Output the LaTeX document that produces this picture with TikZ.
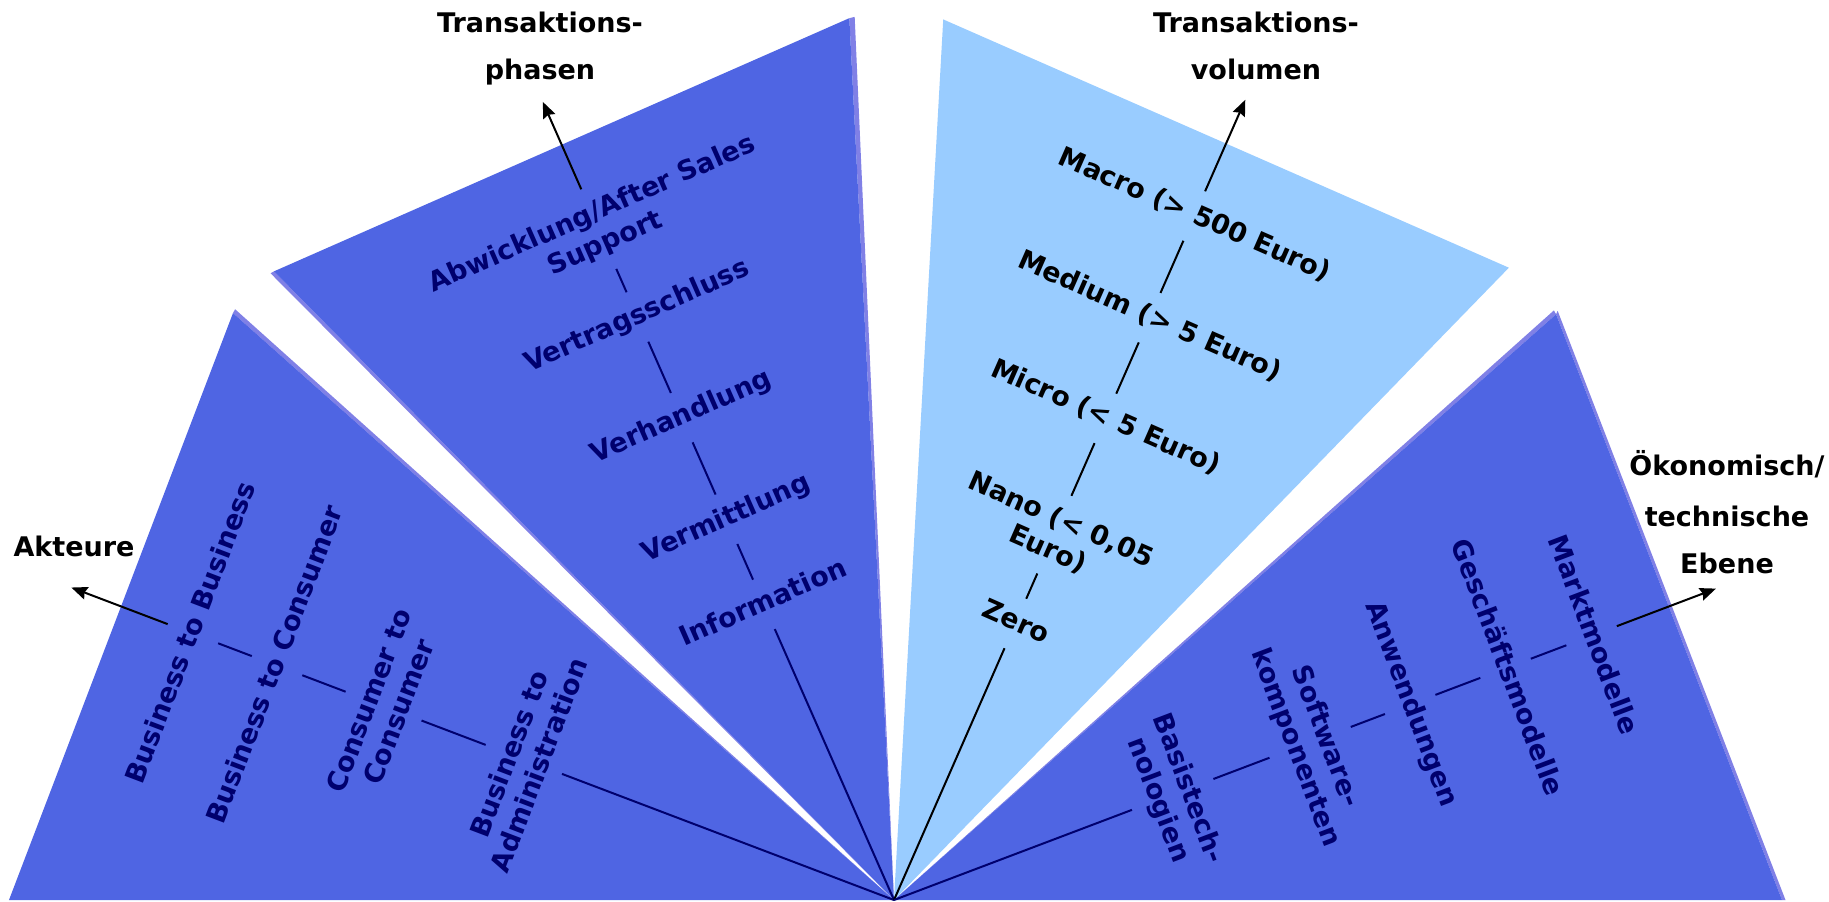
\documentclass[tikz,border=0pt]{standalone}
\usepackage{fontspec}
\setmainfont{DejaVu Sans}
\usetikzlibrary{arrows.meta}
\definecolor{fillblue}{RGB}{79,101,227}
\definecolor{edgeblue}{RGB}{128,128,230}
\definecolor{lightblue}{RGB}{153,204,255}
\definecolor{navy}{RGB}{0,0,110}
\begin{document}
\begin{tikzpicture}[x=0.5pt,y=0.5pt,
  lab/.style={font=\bfseries\fontsize{13.5}{16}\selectfont, inner xsep=2pt},
  one/.style={lab, text height=10.2pt, text depth=3.2pt, inner ysep=6.6pt},
  two/.style={lab, align=center, inner ysep=7pt},
  outer/.style={font=\bfseries\fontsize{13.5}{16}\selectfont, inner sep=0pt, anchor=base},
  seg/.style={draw=navy, line width=1pt},
  segk/.style={draw=black, line width=1pt},
  arr/.style={draw=black, line width=1pt, -{Stealth[length=8pt,width=6.5pt,inset=1pt]}},
  edge/.style={fill=edgeblue},
  sector/.style={fill=fillblue}
]
\useasboundingbox (-894,-1) rectangle (935,900);
\coordinate (O) at (0,0);

% lavender edge strips (tapering to the apex)
\fill[edge] (O) -- (138.4:884) -- (138.12:885) -- cycle;
\fill[edge] (O) -- (134.6:883) -- (134.85:884) -- cycle;
\fill[edge] (O) -- (92.9:883) -- (92.55:884) -- cycle;
\fill[edge] (O) -- (41.5:884) -- (41.78:885) -- cycle;
\fill[edge] (0:888) -- (41.5:884) -- (41.6:887.5) -- (0:891.5) -- cycle;

% sectors
\fill[sector] (O) -- (138.4:884) -- (180:885) -- cycle;
\fill[sector] (O) -- (92.9:883) -- (134.6:883) -- cycle;
\fill[lightblue] (O) -- (45.8:882) -- (86.8:882) -- cycle;
\fill[sector] (O) -- (0:888) -- (41.5:884) -- cycle;

% Akteure
\begin{scope}[every node/.append style={text=navy, rotate=69.2}]
\node[two] (a1) at (159.2:396) {Business to\\Administration};
\node[two] (a2) at (159.2:546) {Consumer to\\Consumer};
\node[one] (a3) at (159.2:660) {Business to Consumer};
\node[one] (a4) at (159.2:750) {Business to Business};
\end{scope}
\coordinate (a5) at (159.2:880);
\draw[seg] (O) -- (a1);
\draw[seg] (a1) -- (a2);
\draw[seg] (a2) -- (a3);
\draw[seg] (a3) -- (a4);
\draw[arr] (a4) -- (a5);

% Transaktionsphasen
\begin{scope}[every node/.append style={text=navy, rotate=23.75}]
\node[one] (b1) at (113.75:323) {Information};
\node[one] (b2) at (113.75:416) {Vermittlung};
\node[one] (b3) at (113.75:527) {Verhandlung};
\node[one] (b4) at (113.75:637) {Vertragsschluss};
\node[two] (b5) at (113.75:733) {Abwicklung/After Sales\\Support};
\end{scope}
\coordinate (b6) at (113.75:872);
\draw[seg] (O) -- (b1);
\draw[seg] (b1) -- (b2);
\draw[seg] (b2) -- (b3);
\draw[seg] (b3) -- (b4);
\draw[seg] (b4) -- (b5);
\draw[arr] (b5) -- (b6);

% Transaktionsvolumen
\begin{scope}[every node/.append style={text=black, rotate=-23.7}]
\node[one] (c1) at (66.3:302) {Zero};
\node[two] (c2) at (66.3:399) {Nano (< 0,05\\Euro)};
\node[one] (c3) at (66.3:526) {Micro (< 5 Euro)};
\node[one] (c4) at (66.3:636) {Medium (> 5 Euro)};
\node[one] (c5) at (66.3:747) {Macro (> 500 Euro)};
\end{scope}
\coordinate (c6) at (66.3:874);
\draw[segk] (O) -- (c1);
\draw[segk] (c1) -- (c2);
\draw[segk] (c2) -- (c3);
\draw[segk] (c3) -- (c4);
\draw[segk] (c4) -- (c5);
\draw[arr] (c5) -- (c6);

% Oekonomisch/technische Ebene
\begin{scope}[every node/.append style={text=navy, rotate=-69.25}]
\node[two] (d1) at (20.75:298) {Basistech-\\nologien};
\node[two] (d2) at (20.75:445) {Software-\\komponenten};
\node[one] (d3) at (20.75:552) {Anwendungen};
\node[one] (d4) at (20.75:654) {Geschäftsmodelle};
\node[one] (d5) at (20.75:746) {Marktmodelle};
\end{scope}
\coordinate (d6) at (20.75:879);
\draw[seg] (O) -- (d1);
\draw[seg] (d1) -- (d2);
\draw[seg] (d2) -- (d3);
\draw[seg] (d3) -- (d4);
\draw[seg] (d4) -- (d5);
\draw[arr] (d5) -- (d6);

% outer labels
\node[outer] (tp1) at (-354,867) {Transaktions-};
\node[outer] (tp2) at (-354,820) {phasen};
\node[outer] (tv1) at (362,867) {Transaktions-};
\node[outer] (tv2) at (362,820) {volumen};
\node[outer] (ak) at (-820,344) {Akteure};
\node[outer] (ok1) at (833,425) {Ökonomisch/};
\node[outer] (ok2) at (833,374) {technische};
\node[outer] (ok3) at (833,327) {Ebene};
\end{tikzpicture}
\end{document}
